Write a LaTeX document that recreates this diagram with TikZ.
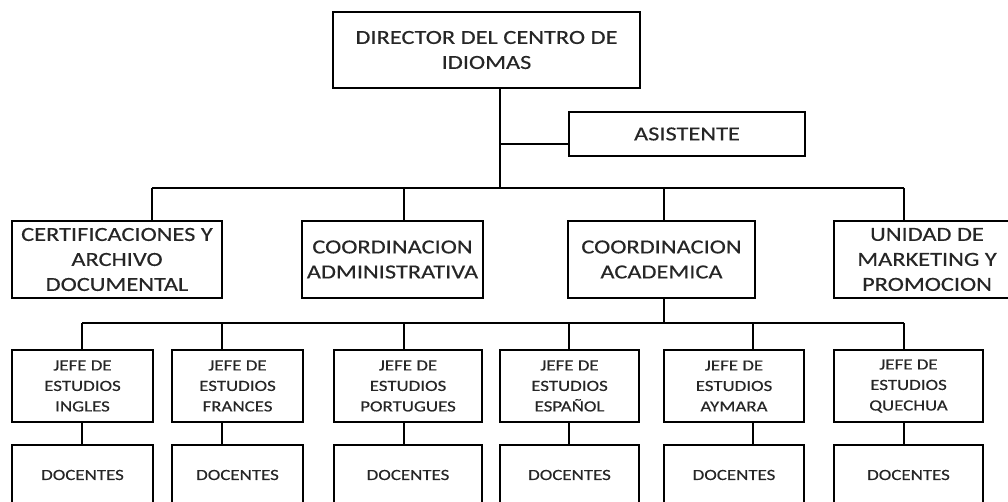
\documentclass[tikz,border=0pt]{standalone}
\usepackage{fontspec}
\setmainfont{Carlito}[FakeStretch=1.22,FakeBold=0.3]
\begin{document}
\begin{tikzpicture}[x=1pt,y=-1pt,
  box/.style={draw=black,line width=1.8pt,fill=white,inner sep=0pt,align=center,text=black!85},
  big/.style={box,font=\fontsize{20}{25}\selectfont},
  small/.style={box,font=\fontsize{15.5}{20.5}\selectfont},
  link/.style={draw=black,line width=1.8pt}]
\useasboundingbox (0,0) rectangle (1008,502);
\clip (0,0) rectangle (1008,502);
% top
\node[big,minimum width=307pt,minimum height=76pt] (dir) at (486.5,50) {DIRECTOR DEL CENTRO DE\\IDIOMAS};
\node[big,minimum width=236pt,minimum height=44pt] (asis) at (687,134) {ASISTENTE};
% level 2
\node[big,minimum width=210pt,minimum height=77pt] (cert) at (117,259.5) {CERTIFICACIONES Y\\ARCHIVO\\DOCUMENTAL};
\node[big,minimum width=181pt,minimum height=77pt] (adm) at (392.5,259.5) {COORDINACION\\ADMINISTRATIVA};
\node[big,minimum width=187pt,minimum height=77pt] (acad) at (661.5,259.5) {COORDINACION\\ACADEMICA};
\node[big,minimum width=186pt,minimum height=77pt] (unid) at (927,259.5) {UNIDAD DE\\MARKETING Y\\PROMOCION};
% level 3
\node[small,minimum width=141pt,minimum height=72pt] (j1) at (82.5,386) {JEFE DE\\ESTUDIOS\\INGLES};
\node[small,minimum width=131pt,minimum height=72pt] (j2) at (237.5,386) {JEFE DE\\ESTUDIOS\\FRANCES};
\node[small,minimum width=148pt,minimum height=72pt] (j3) at (408,386) {JEFE DE\\ESTUDIOS\\PORTUGUES};
\node[small,minimum width=139pt,minimum height=72pt] (j4) at (569.5,386) {JEFE DE\\ESTUDIOS\\ESPAÑOL};
\node[small,minimum width=140pt,minimum height=72pt] (j5) at (734,386) {JEFE DE\\ESTUDIOS\\AYMARA};
\node[small,minimum width=149pt,minimum height=72pt] (j6) at (908.5,386) {JEFE DE\\ESTUDIOS\\QUECHUA};
% level 4
\node[small,minimum width=141pt,minimum height=60pt] (d1) at (82.5,475) {DOCENTES};
\node[small,minimum width=131pt,minimum height=60pt] (d2) at (237.5,475) {DOCENTES};
\node[small,minimum width=148pt,minimum height=60pt] (d3) at (408,475) {DOCENTES};
\node[small,minimum width=139pt,minimum height=60pt] (d4) at (569.5,475) {DOCENTES};
\node[small,minimum width=140pt,minimum height=60pt] (d5) at (734,475) {DOCENTES};
\node[small,minimum width=149pt,minimum height=60pt] (d6) at (908.5,475) {DOCENTES};
% bus coordinates
\coordinate (trunk) at (500,188);
\coordinate (asy) at (500,144);
\coordinate (b1) at (152,188);
\coordinate (b2) at (404,188);
\coordinate (b3) at (664,188);
\coordinate (b4) at (904,188);
\coordinate (c1) at (82,323);
\coordinate (c2) at (222,323);
\coordinate (c3) at (404,323);
\coordinate (c4) at (569,323);
\coordinate (c5) at (753,323);
\coordinate (c6) at (904,323);
% connectors
\path[link] (dir.south -| trunk) -- (trunk);
\path[link] (asy) -- (asis.west |- asy);
\path[link] (b1) -- (b4);
\path[link] (b1) -- (cert.north -| b1);
\path[link] (b2) -- (adm.north -| b2);
\path[link] (b3) -- (acad.north -| b3);
\path[link] (b4) -- (unid.north -| b4);
\path[link] (acad.south -| b3) -- (b3 |- c1);
\path[link] (c1) -- (c6);
\foreach \i in {1,...,6}{
  \path[link] (c\i) -- (j\i.north -| c\i);
  \path[link] (j\i.south -| c\i) -- (d\i.north -| c\i);
}
\end{tikzpicture}
\end{document}
